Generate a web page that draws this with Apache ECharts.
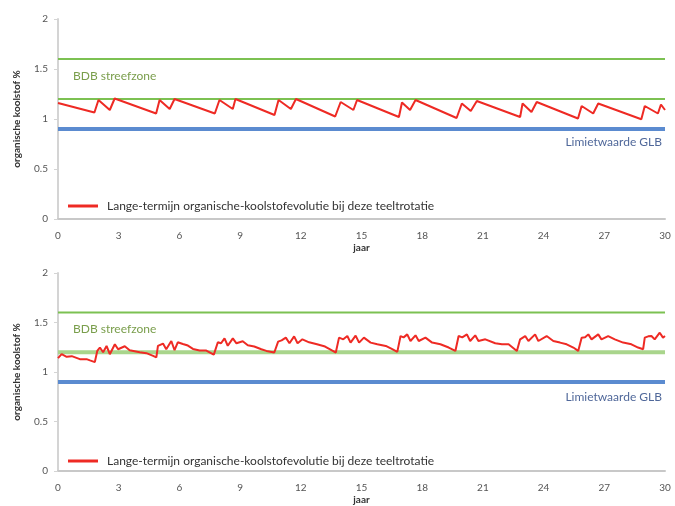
<!DOCTYPE html>
<html>
<head>
<meta charset="utf-8">
<script src="https://cdn.jsdelivr.net/npm/echarts@6/dist/echarts.min.js"></script>
<style>
  html, body { margin: 0; padding: 0; background: #fff; }
  #chart { width: 675px; height: 506px; }
</style>
</head>
<body>
<div id="chart"></div>
<script>
// grenswaarden
const streefzoneBoven = 1.6;
const streefzoneOnder = 1.2;
const limietGLB = 0.9;
const jaarBereik = [0, 30];

// bovenste grafiek
const topYears = [0, 1.8, 2.0, 2.56, 2.8, 4.85, 5.02, 5.52, 5.76, 7.75, 7.98, 8.64, 8.77, 10.7, 10.9, 11.51, 11.76,
    13.7, 13.97, 14.6, 14.78, 16.85, 17.0, 17.4, 17.67, 19.7, 19.96, 20.4, 20.7, 22.84, 22.96, 23.4, 23.66,
    25.7, 25.88, 26.45, 26.7, 28.83, 29.0, 29.65, 29.8, 30];
const topValues = [1.16, 1.065, 1.19, 1.09, 1.205, 1.055, 1.19, 1.1, 1.2, 1.055, 1.19, 1.1, 1.2, 1.04, 1.19, 1.1, 1.2,
    1.025, 1.17, 1.09, 1.19, 1.02, 1.165, 1.09, 1.19, 1.01, 1.155, 1.08, 1.18, 1.02, 1.155, 1.07, 1.17,
    1.005, 1.13, 1.055, 1.155, 0.998, 1.13, 1.055, 1.145, 1.09];

// onderste grafiek
const bottomYears = [0, 0.18, 0.43, 0.68, 1.08, 1.41, 1.58, 1.82, 1.94, 2.07, 2.23, 2.4, 2.56, 2.81, 2.97, 3.3, 3.54,
    4.04, 4.37, 4.7, 4.86, 4.94, 5.19, 5.35, 5.6, 5.76, 5.92, 6.17, 6.42, 6.67, 7.0, 7.33, 7.7, 7.9, 8.06,
    8.23, 8.39, 8.64, 8.82, 9.13, 9.38, 9.7, 10.05, 10.3, 10.69, 10.88, 11.05, 11.26, 11.44, 11.67, 11.84,
    12.08, 12.41, 12.8, 13.2, 13.56, 13.73, 13.89, 14.1, 14.3, 14.46, 14.71, 14.88, 15.12, 15.45, 15.78,
    16.2, 16.52, 16.77, 16.93, 17.08, 17.26, 17.42, 17.67, 17.83, 18.16, 18.49, 18.9, 19.31, 19.64, 19.8,
    19.98, 20.21, 20.37, 20.62, 20.78, 21.12, 21.61, 21.94, 22.27, 22.68, 22.84, 23.09, 23.25, 23.58, 23.74,
    24.15, 24.48, 24.81, 25.14, 25.47, 25.71, 25.88, 26.05, 26.21, 26.37, 26.7, 26.86, 27.19, 27.52, 27.93,
    28.34, 28.67, 28.92, 29.0, 29.17, 29.33, 29.49, 29.74, 29.9, 30];
const bottomValues = [1.14, 1.18, 1.153, 1.16, 1.13, 1.13, 1.117, 1.1, 1.213, 1.247, 1.2, 1.263, 1.18, 1.28, 1.23, 1.26, 1.22,
    1.2, 1.19, 1.163, 1.147, 1.263, 1.287, 1.23, 1.313, 1.22, 1.3, 1.283, 1.267, 1.233, 1.217, 1.217, 1.175, 1.3, 1.29,
    1.34, 1.265, 1.34, 1.29, 1.31, 1.27, 1.257, 1.23, 1.213, 1.197, 1.307, 1.32, 1.347, 1.29, 1.36, 1.29,
    1.33, 1.3, 1.28, 1.257, 1.215, 1.197, 1.347, 1.33, 1.363, 1.297, 1.367, 1.297, 1.347, 1.297, 1.28,
    1.263, 1.23, 1.203, 1.363, 1.35, 1.38, 1.313, 1.37, 1.313, 1.347, 1.297, 1.28, 1.247, 1.213, 1.363,
    1.35, 1.38, 1.313, 1.37, 1.313, 1.33, 1.29, 1.28, 1.28, 1.213, 1.33, 1.363, 1.313, 1.38, 1.313,
    1.363, 1.313, 1.297, 1.28, 1.247, 1.213, 1.347, 1.35, 1.38, 1.33, 1.38, 1.33, 1.363, 1.33, 1.297,
    1.28, 1.247, 1.23, 1.347, 1.36, 1.363, 1.33, 1.397, 1.347, 1.363];

const serieNaam = 'Lange-termijn organische-koolstofevolutie bij deze teeltrotatie';
const yNaam = 'organische koolstof %';
const xNaam = 'jaar';

const font = 'Lato, "Open Sans", sans-serif';
const rood = '#ee2a24';

const pairs = (xs, ys) => xs.map((x, i) => [x, ys[i]]);
const flat = v => jaarBereik.map(x => [x, v]);

const chart = echarts.init(document.getElementById('chart'));

function xAxisFor(gi) {
    return {
        gridIndex: gi,
        type: 'value',
        min: 0, max: 30, interval: 3,
        name: xNaam,
        nameLocation: 'middle',
        nameGap: 24,
        nameTextStyle: {color: '#333', fontSize: 10, fontWeight: 'bold', fontFamily: font},
        axisLine: {show: true, lineStyle: {color: '#c8c8c8', width: 2}},
        axisTick: {show: false},
        axisLabel: {color: '#555', fontSize: 10, fontFamily: font, margin: 12},
        splitLine: {show: false}
    };
}

function yAxisFor(gi) {
    return {
        gridIndex: gi,
        type: 'value',
        min: 0, max: 2, interval: 0.5,
        name: yNaam,
        nameLocation: 'middle',
        nameRotate: 90,
        nameGap: 36,
        nameTextStyle: {color: '#333', fontSize: 10, fontWeight: 'bold', fontFamily: font},
        axisLine: {show: true, lineStyle: {color: '#d4d4d4', width: 2}},
        axisTick: {show: true, length: 4, lineStyle: {color: '#d4d4d4'}},
        axisLabel: {color: '#555', fontSize: 10, fontFamily: font, margin: 10},
        splitLine: {show: false}
    };
}

function seriesFor(gi, xs, ys, lowerColor, lowerWidth) {
    return [{
        name: 'BDB boven', type: 'line', xAxisIndex: gi, yAxisIndex: gi,
        data: flat(streefzoneBoven), symbol: 'none', silent: true,
        lineStyle: {color: '#7cc152', width: 2}
    }, {
        name: 'BDB onder', type: 'line', xAxisIndex: gi, yAxisIndex: gi,
        data: flat(streefzoneOnder), symbol: 'none', silent: true,
        lineStyle: {color: lowerColor, width: lowerWidth}
    }, {
        name: 'GLB', type: 'line', xAxisIndex: gi, yAxisIndex: gi,
        data: flat(limietGLB), symbol: 'none', silent: true,
        lineStyle: {color: '#5b8bd0', width: 4}
    }, {
        name: serieNaam, type: 'line', xAxisIndex: gi, yAxisIndex: gi,
        data: pairs(xs, ys), symbol: 'none', z: 5,
        itemStyle: {color: rood},
        lineStyle: {color: rood, width: 2}
    }];
}

function legendFor(top) {
    return {
        data: [serieNaam],
        left: 63, top: top,
        icon: 'rect',
        itemWidth: 30, itemHeight: 3,
        textStyle: {color: '#333', fontSize: 12, fontFamily: font, padding: [0, 0, 0, 4]}
    };
}

function label(text, x, y, color, align) {
    return {
        type: 'text', x: x, y: y,
        style: {text: text, fill: color, font: '12px ' + font, align: align, verticalAlign: 'middle'}
    };
}

chart.setOption({
    animation: false,
    grid: [
        {left: 58, right: 10, top: 19, height: 200},
        {left: 58, right: 10, top: 273, height: 200}
    ],
    xAxis: [xAxisFor(0), xAxisFor(1)],
    yAxis: [yAxisFor(0), yAxisFor(1)],
    legend: [legendFor(195), legendFor(450)],
    series: seriesFor(0, topYears, topValues, '#7cc152', 2)
        .concat(seriesFor(1, bottomYears, bottomValues, '#a9d58c', 4)),
    graphic: [
        label('BDB streefzone', 73, 76, '#7a9e4c', 'left'),
        label('Limietwaarde GLB', 662, 142, '#50689a', 'right'),
        label('BDB streefzone', 73, 329, '#7a9e4c', 'left'),
        label('Limietwaarde GLB', 662, 397, '#50689a', 'right')
    ]
});
</script>
</body>
</html>
